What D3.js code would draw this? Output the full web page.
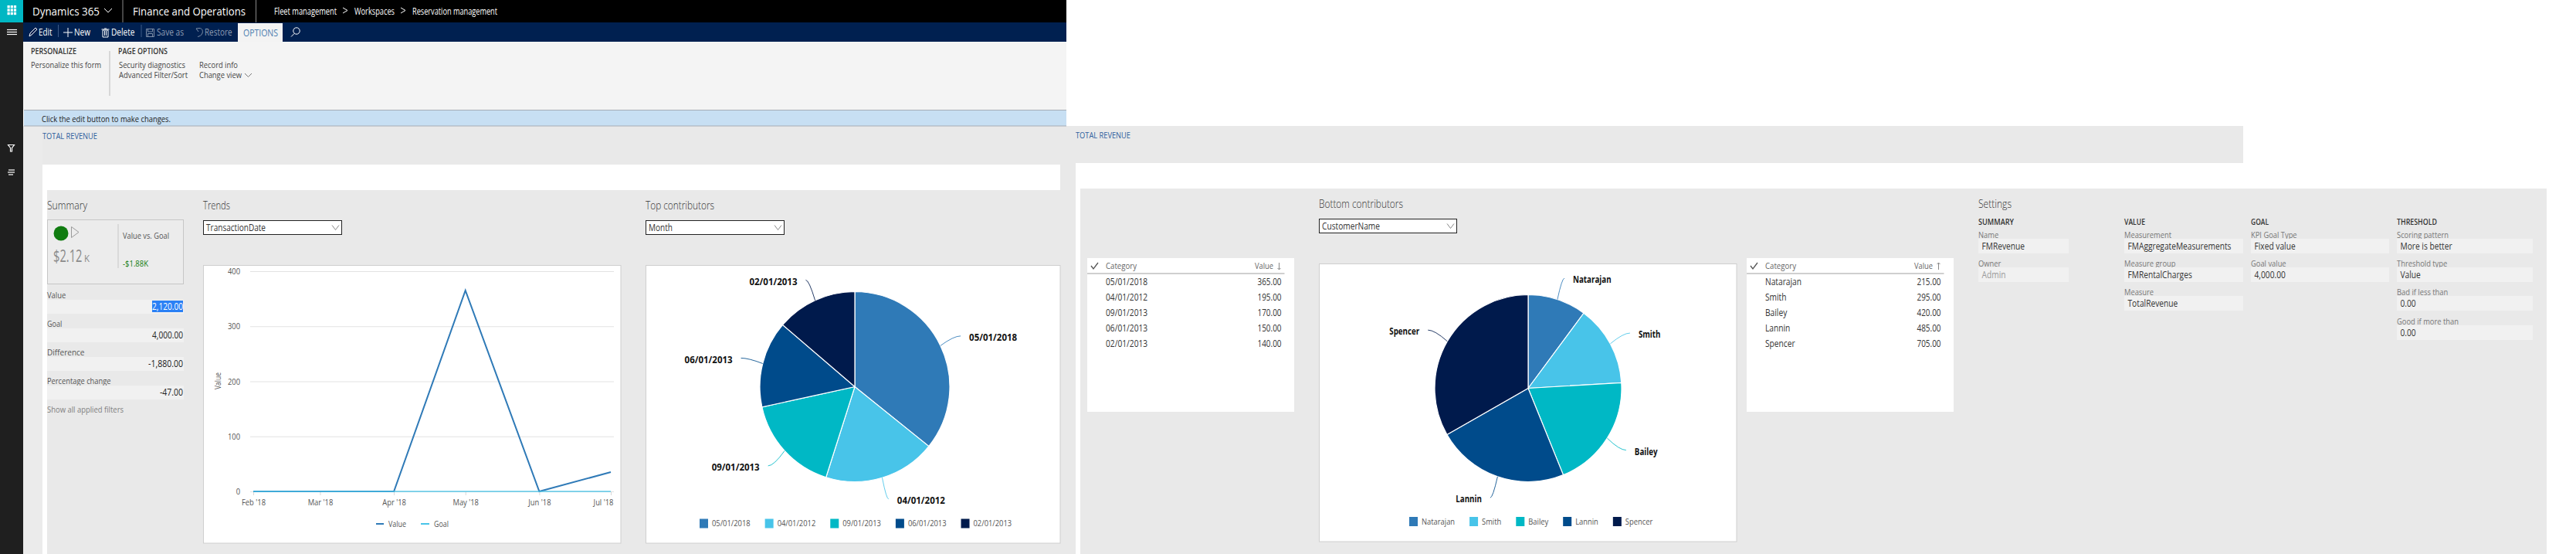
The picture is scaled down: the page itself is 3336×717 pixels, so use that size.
<!DOCTYPE html>
<html>
<head>
<meta charset="utf-8">
<script src="https://cdn.jsdelivr.net/npm/d3@7"></script>
<style>
html, body { margin: 0; padding: 0; background: #fff; overflow: hidden; }
svg { display: block; font-family: "Open Sans", sans-serif; }
</style>
</head>
<body>
<svg width="3336" height="717"></svg>
<script>
// chart values
const trendDates = ['2018-02-01', '2018-03-01', '2018-04-01', '2018-05-01', '2018-06-01', '2018-07-01'];
const trendValue = [0, 0, 0, 365, 0, 35];
const trendGoal = [0, 0, 0, 0, 0, 0];
const yTicks = [0, 100, 200, 300, 400];
const topCategories = ['05/01/2018', '04/01/2012', '09/01/2013', '06/01/2013', '02/01/2013'];
const topValues = [365, 195, 170, 150, 140];
const bottomCategories = ['Natarajan', 'Smith', 'Bailey', 'Lannin', 'Spencer'];
const bottomValues = [215, 295, 420, 485, 705];
const pieColors = ['#2f7ab7', '#48c4e9', '#00b8c5', '#004b8b', '#001a4c'];
const summaryLabels = ['Value', 'Goal', 'Difference', 'Percentage change'];
const summaryValues = [2120, 4000, -1880, -47];
const settingsSummary = [['Name', 'FMRevenue'], ['Owner', 'Admin']];
const settingsValue = [['Measurement', 'FMAggregateMeasurements'], ['Measure group', 'FMRentalCharges'], ['Measure', 'TotalRevenue']];
const settingsGoal = [['KPI Goal Type', 'Fixed value'], ['Goal value', '4,000.00']];
const settingsThreshold = [['Scoring pattern', 'More is better'], ['Threshold type', 'Value'], ['Bad if less than', '0.00'], ['Good if more than', '0.00']];

const svg = d3.select('svg');
const fmt = d3.formatLocale({ decimal: '.', thousands: ',', grouping: [3], currency: ['$', ''], minus: '-' }).format(',.2f');
const SQUEEZE = 0.85;

function rect(x0, y0, x1, y1, fill, stroke) {
	return svg.append('rect')
		.attr('x', x0).attr('y', y0)
		.attr('width', x1 - x0).attr('height', y1 - y0)
		.attr('fill', fill)
		.attr('stroke', stroke || 'none');
}

function line(x0, y0, x1, y1, color, w) {
	return svg.append('line')
		.attr('x1', x0).attr('y1', y0).attr('x2', x1).attr('y2', y1)
		.attr('stroke', color).attr('stroke-width', w || 1);
}

function shape(d, color, w, fill) {
	return svg.append('path').attr('d', d)
		.attr('fill', fill || 'none')
		.attr('stroke', color).attr('stroke-width', w || 1);
}

// squeeze text to the narrow look of the screenshot, w is the measured width
function squeeze(sel, w) {
	sel.each(function() {
		const len = w || this.getComputedTextLength() * SQUEEZE;
		d3.select(this).attr('textLength', len).attr('lengthAdjust', 'spacingAndGlyphs');
	});
	return sel;
}

function txt(str, x, y, o) {
	o = o || {};
	const t = svg.append('text')
		.text(str)
		.attr('x', x).attr('y', y)
		.attr('dy', '0.36em')
		.attr('font-size', o.size || 11)
		.attr('font-weight', o.weight || 400)
		.attr('fill', o.fill || '#333')
		.attr('text-anchor', o.anchor || 'start');
	return squeeze(t, o.w);
}

function chevron(x, y, w, h, color) {
	shape(`M${x},${y} L${x + w / 2},${y + h} L${x + w},${y}`, color, 1);
}

function dropdown(x0, y0, x1, y1, label, w) {
	rect(x0 + 0.5, y0 + 0.5, x1 - 0.5, y1 - 0.5, '#fff', '#222');
	txt(label, x0 + 4, (y0 + y1) / 2, { size: 12, w: w, fill: '#333' });
	chevron(x1 - 13, (y0 + y1) / 2 - 3, 9, 6, '#888');
}

function addBackground() {
	rect(0, 0, 30, 717, '#1f1f1f');
	rect(30, 163, 1393, 717, '#e9e9e9');
	rect(1381, 163, 2905, 211, '#e9e9e9');
	rect(55, 213, 1373, 246, '#fff');
	rect(55, 246, 61, 717, '#fff');
	rect(30, 163, 55, 717, '#ebebeb');
	rect(1393, 211, 3336, 244, '#fff');
	rect(1393, 244, 1399, 717, '#fff');
	rect(1399, 244, 3298, 717, '#e9e9e9');
}

function addHeader() {
	rect(0, 0, 1381, 29, '#000');
	rect(0, 0, 30, 29, '#00b7c3');
	// waffle
	d3.range(9).forEach(i => {
		rect(9.5 + (i % 3) * 4.2, 7 + Math.floor(i / 3) * 4.4, 9.5 + (i % 3) * 4.2 + 3.2, 7 + Math.floor(i / 3) * 4.4 + 3.4, '#fff');
	});
	txt('Dynamics 365', 42, 14.5, { size: 15, w: 87, fill: '#fff' });
	chevron(135, 11, 10, 5, '#fff');
	line(159, 0, 159, 29, '#888');
	txt('Finance and Operations', 172, 14.5, { size: 15, w: 146, fill: '#fff' });
	line(331.5, 0, 331.5, 29, '#888');
	txt('Fleet management', 355, 15, { size: 12, w: 81, fill: '#fff' });
	shape('M444,10 L450,13.5 L444,17', '#fff');
	txt('Workspaces', 459, 15, { size: 12, w: 52, fill: '#fff' });
	shape('M519,10 L525,13.5 L519,17', '#fff');
	txt('Reservation management', 534, 15, { size: 12, w: 110, fill: '#fff' });

	// command bar
	rect(30, 29, 1381, 54, '#002050');
	[38.5, 41.5, 44.5].forEach(y => line(9, y, 22, y, '#fff', 1.2));
	shape('M38,47 L39,43 L46,36 L48,38 L41,45 Z', '#fff');
	txt('Edit', 50, 42, { size: 12, w: 17.5, fill: '#fff' });
	line(75.5, 32, 75.5, 48, '#3d5a86');
	shape('M82,42 L94,42 M88,36 L88,48', '#fff');
	txt('New', 96, 42, { size: 12, w: 21, fill: '#fff' });
	shape('M133,39 L133,48 L140,48 L140,39 Z M131.5,38 L141.5,38 M135,37 L138,37 M135.5,40 L135.5,46 M137.5,40 L137.5,46', '#fff');
	txt('Delete', 144, 42, { size: 12, w: 30.5, fill: '#fff' });
	line(183, 32, 183, 48, '#3d5a86');
	shape('M189.5,37.5 L199.5,37.5 L199.5,47.5 L189.5,47.5 Z M191.5,37.5 L191.5,41 L197.5,41 L197.5,37.5 M191.5,47.5 L191.5,43.5 L197.5,43.5 L197.5,47.5', '#8090a8');
	txt('Save as', 203, 42, { size: 12, w: 35, fill: '#8f9db3' });
	shape('M254,37 L257,41 M254,37 L258,36.5 C262,36.5 263,40 262,43 C261,46 258,47 256,47.5', '#8090a8');
	txt('Restore', 265, 42, { size: 12, w: 35.5, fill: '#8f9db3' });
	rect(308, 30, 366, 54, '#f3f3f3');
	txt('OPTIONS', 315, 43, { size: 12, w: 45, fill: '#4a7db0' });
	svg.append('circle').attr('cx', 384).attr('cy', 40).attr('r', 4.2).attr('fill', 'none').attr('stroke', '#fff');
	line(381, 43.5, 377, 47.5, '#fff');

	// options panel
	rect(30, 54, 1381, 142, '#f4f4f4');
	txt('PERSONALIZE', 40, 66.5, { weight: 600, w: 59, fill: '#333' });
	line(142, 66, 142, 124, '#bbb');
	txt('PAGE OPTIONS', 153, 66.5, { weight: 600, w: 64, fill: '#333' });
	txt('Personalize this form', 40, 84, { w: 91, fill: '#444' });
	txt('Security diagnostics', 154, 84, { w: 86, fill: '#444' });
	txt('Advanced Filter/Sort', 154, 97, { w: 89, fill: '#444' });
	txt('Record info', 258, 84, { w: 50, fill: '#444' });
	txt('Change view', 258, 97, { w: 55, fill: '#444' });
	chevron(317, 95, 9, 4.5, '#777');

	// message bar
	rect(31, 142, 1381, 163, '#c7dff3');
	line(31, 142.5, 1381, 142.5, '#a5adb5');
	line(31, 163, 1381, 163, '#a5adb5');
	txt('Click the edit button to make changes.', 54, 154, { w: 167, fill: '#222' });
	txt('TOTAL REVENUE', 55, 176, { w: 71, fill: '#2e5f9e' });
	txt('TOTAL REVENUE', 1393, 175, { w: 71, fill: '#2e5f9e' });

	// side icons
	shape('M10.5,187.5 L18.5,187.5 L15.5,191.5 L15.5,196 L13.5,196 L13.5,191.5 Z', '#fff', 1.2);
	line(11, 220, 19, 220, '#fff', 1.2);
	line(10, 223, 19, 223, '#fff', 1.2);
	line(11, 226, 17, 226, '#fff', 1.2);
}

function addSummary() {
	txt('Summary', 61, 266, { size: 14, w: 52, weight: 300, fill: '#333' });
	rect(61.5, 284.5, 237.5, 367.5, '#ececec', '#c6c6c6');
	svg.append('ellipse').attr('cx', 79).attr('cy', 302).attr('rx', 9.5).attr('ry', 9.5).attr('fill', '#107c10');
	shape('M92.5,293.5 L102,300.5 L92.5,307.5 Z', '#9a9a9a', 1);
	// big figure squeezed with a transform, so its box stays clear of the K
	svg.append('text').text('$2.12')
		.attr('transform', 'translate(69,339) scale(0.7,1)')
		.attr('font-size', 21).attr('fill', '#8a8a8a');
	svg.append('text').text('K')
		.attr('transform', 'translate(109,339) scale(0.95,1)')
		.attr('font-size', 12).attr('fill', '#8a8a8a');
	line(153, 290, 153, 347, '#c6c6c6');
	txt('Value vs. Goal', 159, 305, { w: 60, fill: '#555' });
	txt('-$1.88K', 159, 341, { w: 33, fill: '#107c10' });

	const rowTop = [388, 425, 462, 499];
	summaryLabels.forEach((label, i) => {
		const top = rowTop[i];
		txt(label, 61, top - 6, { w: label.length * 4.85, fill: '#555' });
		rect(61, top, 238, top + 18, '#f1f1f1');
		const str = fmt(summaryValues[i]);
		const w = str.length * 5;
		if (i == 0) rect(197, top + 1, 237, top + 16, '#2a80f5');
		txt(str, 237, top + 9, { size: 12, anchor: 'end', w: w, fill: i == 0 ? '#fff' : '#222' });
	});
	txt('Show all applied filters', 61, 530, { w: 99, fill: '#808080' });
}

function addTrends() {
	txt('Trends', 263, 266, { size: 14, w: 35, weight: 300, fill: '#333' });
	dropdown(263, 285, 443, 304, 'TransactionDate', 77);
	rect(263.5, 343.5, 804, 703, '#fff', '#cfcfcf');

	const parse = d3.utcParse('%Y-%m-%d');
	const dates = trendDates.map(parse);
	const x = d3.scaleUtc().domain(d3.extent(dates)).range([328, 791]);
	const y = d3.scaleLinear().domain([0, 400]).range([636, 351]);

	// gridlines and y labels
	const yAxis = svg.append('g')
		.attr('transform', 'translate(324,0)')
		.call(d3.axisLeft(y).tickValues(yTicks).tickSize(-471).tickPadding(13).tickFormat(d3.format('d')));
	yAxis.select('.domain').remove();
	yAxis.selectAll('line').attr('stroke', '#e2e2e2');
	yAxis.selectAll('text').attr('font-size', 11).attr('font-family', '"Open Sans"').attr('fill', '#555');
	squeeze(yAxis.selectAll('text'));

	const xAxis = svg.append('g')
		.attr('transform', 'translate(0,636)')
		.call(d3.axisBottom(x).tickValues(dates).tickSize(5).tickPadding(5).tickFormat(d3.utcFormat("%b '%y")));
	xAxis.select('.domain').attr('stroke', '#d8d8d8');
	xAxis.selectAll('line').attr('stroke', '#d8d8d8');
	xAxis.selectAll('text').attr('font-size', 11).attr('font-family', '"Open Sans"').attr('fill', '#555');
	squeeze(xAxis.selectAll('text'));
	xAxis.selectAll('.tick:last-of-type text').attr('x', -10);

	const path = d3.line().x((d, i) => x(dates[i])).y(d => y(d));
	svg.append('path').attr('d', path(trendValue)).attr('fill', 'none')
		.attr('stroke', pieColors[0]).attr('stroke-width', 2);
	svg.append('path').attr('d', path(trendGoal)).attr('fill', 'none')
		.attr('stroke', pieColors[1]).attr('stroke-width', 2).attr('stroke-opacity', 0.65);

	svg.append('text').text('Value')
		.attr('transform', 'translate(282,493) rotate(-90)')
		.attr('text-anchor', 'middle').attr('dy', '0.36em')
		.attr('font-size', 10).attr('fill', '#555')
		.call(squeeze);

	line(487, 678, 497, 678, pieColors[0], 2);
	txt('Value', 503, 678, { w: 23, fill: '#555' });
	line(545, 678, 556, 678, pieColors[1], 2);
	txt('Goal', 562, 678, { w: 19, fill: '#555' });
}

function drawPie(cx, cy, r, names, values, legendX, legendY, bold) {
	const slices = d3.pie().sort(null)(values);
	const arc = d3.arc().innerRadius(0).outerRadius(r);
	const g = svg.append('g').attr('transform', `translate(${cx},${cy})`);

	g.selectAll('path.slice')
		.data(slices)
		.join('path')
		.attr('class', 'slice')
		.attr('d', arc)
		.attr('fill', (d, i) => pieColors[i])
		.attr('stroke', '#fff')
		.attr('stroke-width', 1.2);

	slices.forEach((d, i) => {
		const mid = (d.startAngle + d.endAngle) / 2;
		const at = rad => [rad * Math.sin(mid), -rad * Math.cos(mid)];
		const start = at(r);
		const end = at(r + 29);
		const knee = at(r + 19);
		const p = d3.path();
		p.moveTo(start[0], start[1]);
		p.quadraticCurveTo(knee[0], end[1], end[0], end[1]);
		g.append('path').attr('d', p.toString())
			.attr('fill', 'none').attr('stroke', pieColors[i]).attr('stroke-opacity', 0.85);
		const right = Math.sin(mid) > 0;
		g.append('text').text(names[i])
			.attr('x', end[0] + (right ? 11 : -11))
			.attr('y', end[1] + 2)
			.attr('dy', '0.36em')
			.attr('text-anchor', right ? 'start' : 'end')
			.attr('font-size', 11.5)
			.attr('font-weight', 700)
			.attr('fill', '#111')
			.call(sel => squeeze(sel, bold));
	});

	// legend, laid out item after item
	let lx = legendX;
	names.forEach((name, i) => {
		rect(lx, legendY - 6, lx + 11, legendY + 6, pieColors[i]);
		const t = txt(name, lx + 16, legendY, { fill: '#555' });
		lx += 16 + (+t.attr('textLength')) + 19;
	});
}

function addTable(x0, check, rows, vals, sortUp) {
	const right = x0 + 268;
	rect(x0, 334, right, 533, '#fff');
	shape(`M${check - 5},344 L${check - 2},348 L${check + 4},340`, '#555', 1.3);
	txt('Category', x0 + 24, 344.5, { w: 40, fill: '#666' });
	txt('Value', x0 + 217, 344.5, { w: 24, fill: '#666' });
	const ax = x0 + 248.5;
	if (sortUp) shape(`M${ax},349 L${ax},340 M${ax - 2},342 L${ax},340 L${ax + 2},342`, '#888');
	else shape(`M${ax},340 L${ax},349 M${ax - 2},347 L${ax},349 L${ax + 2},347`, '#888');
	line(x0, 354, x0 + 255.5, 354, '#a0a0a0');

	const rowY = d3.scalePoint().domain(d3.range(rows.length)).range([365, 445]);
	rows.forEach((name, i) => {
		txt(name, x0 + 24, rowY(i), { size: 12, fill: '#333' });
		txt(fmt(vals[i]), x0 + 251.5, rowY(i), { size: 12, anchor: 'end', w: 31, fill: '#333' });
	});
}

function addSettings() {
	txt('Settings', 2562, 264, { size: 14, w: 43, weight: 300, fill: '#333' });
	const columns = [
		['SUMMARY', settingsSummary, 2562, 2679, 46],
		['VALUE', settingsValue, 2751, 2905, 27],
		['GOAL', settingsGoal, 2915, 3094, 23],
		['THRESHOLD', settingsThreshold, 3104, 3280, 52]
	];
	const labelY = [304, 341, 378, 416];
	columns.forEach(c => {
		txt(c[0], c[2], 287, { weight: 600, w: c[4], fill: '#333' });
		c[1].forEach((f, i) => {
			txt(f[0], c[2], labelY[i], { fill: '#777' });
			rect(c[2], labelY[i] + 5, c[3], labelY[i] + 24, '#f1f1f1');
			txt(f[1], c[2] + 4.5, labelY[i] + 15, { size: 12, fill: f[0] == 'Owner' ? '#999' : '#333' });
		});
	});
}

addBackground();
addHeader();
addSummary();
addTrends();

txt('Top contributors', 836, 266, { size: 14, w: 89, weight: 300, fill: '#333' });
dropdown(836, 285, 1016, 304, 'Month', 31);
rect(836.5, 343.5, 1373, 703, '#fff', '#cfcfcf');
drawPie(1107, 500.5, 123, topCategories, topValues, 906, 677.5, 62);

addTable(1408, 1418, topCategories, topValues, false);

txt('Bottom contributors', 1708, 263.5, { size: 14, w: 109, weight: 300, fill: '#333' });
dropdown(1708, 283, 1887, 302, 'CustomerName', 75);
rect(1708.5, 341.5, 2249, 701, '#fff', '#cfcfcf');
drawPie(1979, 502.5, 121, bottomCategories, bottomValues, 1825, 675, null);

addTable(2262, 2272, bottomCategories, bottomValues, true);
addSettings();
</script>
</body>
</html>
